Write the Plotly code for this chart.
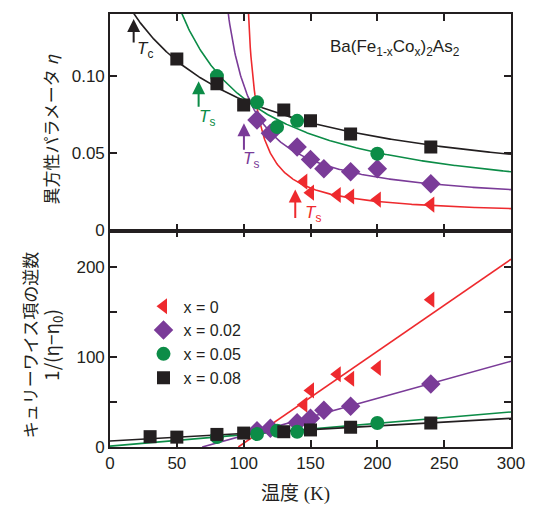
import numpy as np
import plotly.graph_objects as go

# ---------------- data ----------------
series_labels = ["x = 0", "x = 0.02", "x = 0.05", "x = 0.08"]

# top panel: anisotropy parameter eta vs temperature
T_top_x0 = [145, 150, 170, 180, 200, 240]
eta_x0 = [0.0316, 0.0245, 0.023, 0.022, 0.020, 0.0168]
T_top_x002 = [110, 120, 140, 150, 160, 180, 200, 240]
eta_x002 = [0.0716, 0.063, 0.054, 0.046, 0.040, 0.038, 0.040, 0.0303]
T_top_x005 = [80, 110, 125, 140, 200]
eta_x005 = [0.100, 0.083, 0.067, 0.071, 0.0497]
T_top_x008 = [50, 80, 100, 130, 150, 180, 240]
eta_x008 = [0.111, 0.095, 0.0813, 0.078, 0.071, 0.0625, 0.054]

# bottom panel: inverse Curie-Weiss term 1/(eta - eta0)
T_bot_x0 = [145, 150, 170, 180, 200, 240]
inv_x0 = [47, 63, 81, 76, 88, 164]
T_bot_x002 = [110, 120, 140, 150, 160, 180, 240]
inv_x002 = [18, 21, 27, 32, 41, 45.5, 70]
T_bot_x005 = [80, 110, 125, 140, 200]
inv_x005 = [11, 14.4, 18, 17, 26.7]
T_bot_x008 = [30, 50, 80, 100, 130, 150, 180, 240]
inv_x008 = [11.5, 11, 14, 15.5, 17, 19, 22, 26.7]

# Curie-Weiss fit parameters: eta = eta0 + C/(T - theta)
fit_theta = [96, 69, -8, -79.5]
fit_C = [0.976, 2.42, 7.9, 11.9]
fit_eta0 = [0.0094, 0.016, 0.0124, 0.018]

x_ticks = [0, 50, 100, 150, 200, 250, 300]

# ---------------- styles ----------------
colors = ["#ee2a2e", "#7a3b98", "#0c8c47", "#231f20"]
symbols = ["triangle-left", "diamond", "circle", "square"]
msizes = [14, 15, 14, 13]

top_T = [T_top_x0, T_top_x002, T_top_x005, T_top_x008]
top_eta = [eta_x0, eta_x002, eta_x005, eta_x008]
bot_T = [T_bot_x0, T_bot_x002, T_bot_x005, T_bot_x008]
bot_inv = [inv_x0, inv_x002, inv_x005, inv_x008]

fig = go.Figure()

# fit curves
for i in range(4):
    th, C, e0 = fit_theta[i], fit_C[i], fit_eta0[i]
    t0 = th + C / (0.16 - e0)
    T = np.linspace(t0, 300, 400)
    fig.add_trace(go.Scatter(x=T, y=e0 + C / (T - th), mode="lines",
                             line=dict(color=colors[i], width=1.6),
                             xaxis="x2", yaxis="y2", showlegend=False,
                             hoverinfo="skip"))
    Tl = np.array([max(0, th), 300])
    fig.add_trace(go.Scatter(x=Tl, y=(Tl - th) / C, mode="lines",
                             line=dict(color=colors[i], width=1.6),
                             xaxis="x", yaxis="y", showlegend=False,
                             hoverinfo="skip"))

# data markers
for i in range(4):
    fig.add_trace(go.Scatter(x=top_T[i], y=top_eta[i], mode="markers",
                             marker=dict(symbol=symbols[i], size=msizes[i],
                                         color=colors[i], line=dict(width=0)),
                             xaxis="x2", yaxis="y2", showlegend=False))
    fig.add_trace(go.Scatter(x=bot_T[i], y=bot_inv[i], mode="markers",
                             marker=dict(symbol=symbols[i], size=msizes[i],
                                         color=colors[i], line=dict(width=0)),
                             xaxis="x", yaxis="y", name=series_labels[i],
                             showlegend=True))

axis_common = dict(showline=True, linecolor="#231f20", linewidth=1.6,
                   mirror="ticks", ticks="inside", ticklen=7, tickwidth=1.5,
                   tickcolor="#231f20", showgrid=False, zeroline=False,
                   tickfont=dict(family="Liberation Sans, Arial", size=17,
                                 color="#231f20"))

fig.update_layout(
    width=537, height=506,
    margin=dict(l=110, r=20, t=13, b=59),
    paper_bgcolor="white", plot_bgcolor="white",
    xaxis=dict(domain=[0, 1], range=[0, 300], anchor="y",
               tickvals=x_ticks, **axis_common),
    yaxis=dict(domain=[0, 0.5], range=[0, 241], anchor="x",
               tickvals=[0, 50, 100, 150, 200],
               ticktext=["0", "", "100", "", "200"], **axis_common),
    xaxis2=dict(domain=[0, 1], range=[0, 300], anchor="y2",
                tickvals=x_ticks, showticklabels=False, **axis_common),
    yaxis2=dict(domain=[0.5, 1], range=[0, 0.1402], anchor="x2",
                tickvals=[0, 0.05, 0.10], ticktext=["0", "0.05", "0.10"],
                **axis_common),
    legend=dict(x=(144 - 110) / 407, y=(447 - 289) / 434,
                xanchor="left", yanchor="top",
                bgcolor="rgba(0,0,0,0)", itemwidth=30, tracegroupgap=0,
                font=dict(family="Liberation Sans, Arial", size=16,
                          color="#231f20")),
    showlegend=True,
)

ann = []
# formula
ann.append(dict(x=213, y=0.118, xref="x2", yref="y2", showarrow=False,
                xanchor="center", yanchor="middle",
                text="Ba(Fe<sub>1-x</sub>Co<sub>x</sub>)<sub>2</sub>As<sub>2</sub>",
                font=dict(family="Liberation Sans, Arial", size=17,
                          color="#231f20")))
# transition arrows and labels
arrows = [  # (T head, eta head, tail px, label T, label eta, color, sub)
    (17.7, 0.137, 25, 26.5, 0.1168, colors[3], "c"),
    (66.3, 0.0967, 27, 72.2, 0.0727, colors[2], "s"),
    (100.2, 0.0694, 28, 105.4, 0.0454, colors[1], "s"),
    (138.6, 0.0266, 30, 151.8, 0.011, colors[0], "s"),
]
for (xh, yh, L, xl, yl, c, sub) in arrows:
    ann.append(dict(x=xh, y=yh, xref="x2", yref="y2", ax=0, ay=L,
                    showarrow=True, arrowhead=2, arrowsize=1.3,
                    arrowwidth=2, arrowcolor=c, text=""))
    ann.append(dict(x=xl, y=yl, xref="x2", yref="y2", showarrow=False,
                    xanchor="center", yanchor="middle",
                    text="<i>T</i><sub>" + sub + "</sub>",
                    font=dict(family="Liberation Sans, Arial", size=17,
                              color=c)))
# axis titles
ann.append(dict(x=(50 - 110) / 407, y=(447 - 129) / 434, xref="paper",
                yref="paper", showarrow=False, textangle=-90,
                xanchor="center", yanchor="middle",
                text="異方性パラメータ <i>η</i>",
                font=dict(family="Noto Sans CJK JP", size=17,
                          color="#231f20")))
ann.append(dict(x=(41 - 110) / 407, y=(447 - 345) / 434, xref="paper",
                yref="paper", showarrow=False, textangle=-90,
                xanchor="center", yanchor="middle",
                text="キュリーワイス項の逆数<br>"
                     "<span style='font-size:19px'>1/(η−η<sub>0</sub>)</span>",
                font=dict(family="Noto Sans CJK JP", size=17,
                          color="#231f20")))
ann.append(dict(x=(298 - 110) / 407, y=(447 - 494) / 434, xref="paper",
                yref="paper", showarrow=False,
                xanchor="center", yanchor="middle",
                text="温度 (K)",
                font=dict(family="Liberation Serif, Noto Sans CJK JP",
                          size=19, color="#231f20")))
fig.update_layout(annotations=ann)

fig.write_html("out.html", config={"displayModeBar": False},
               post_script="document.body.style.margin='0';")
